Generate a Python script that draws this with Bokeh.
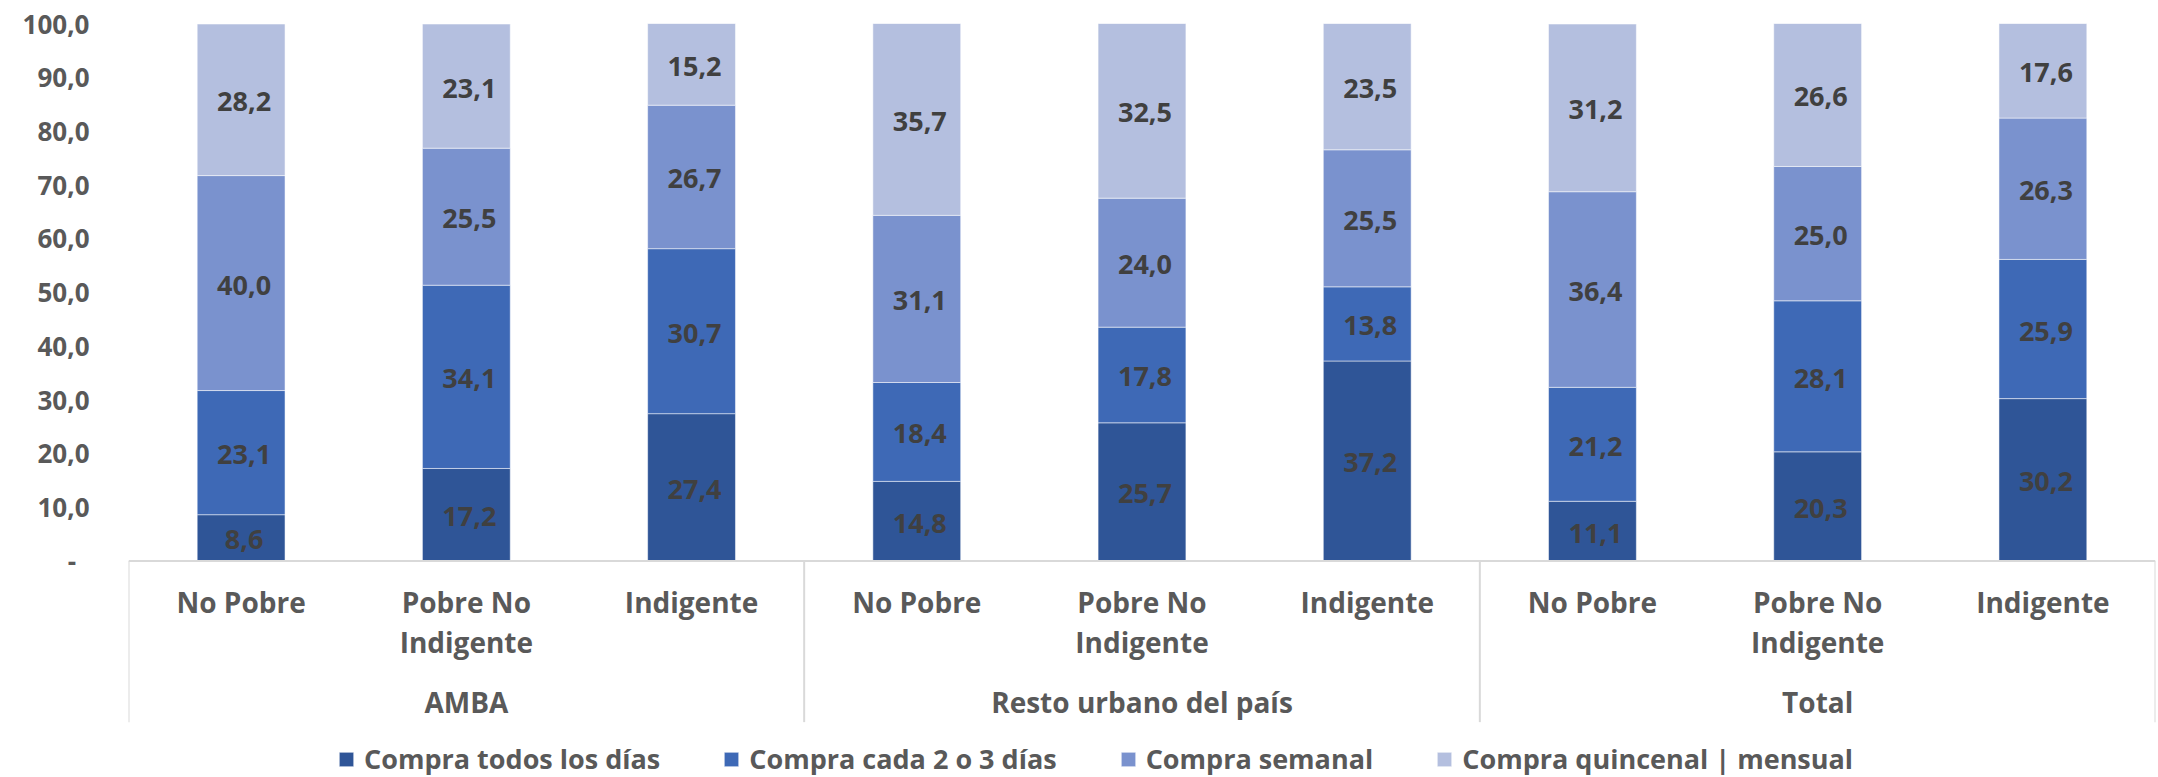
from bokeh.plotting import figure
from bokeh.models import Range1d, FixedTicker, ColumnDataSource
from bokeh.core.properties import value
from bokeh.embed import file_html
from bokeh.resources import INLINE

groups = ["AMBA", "Resto urbano del país", "Total"]
categories = ["No Pobre", "Pobre No\nIndigente", "Indigente"]
series = ["Compra todos los días", "Compra cada 2 o 3 días", "Compra semanal", "Compra quincenal | mensual"]
colors = ["#2F5597", "#3E69B6", "#7A92CE", "#B4BFDF"]

todos = [8.6, 17.2, 27.4, 14.8, 25.7, 37.2, 11.1, 20.3, 30.2]
cada_2_3 = [23.1, 34.1, 30.7, 18.4, 17.8, 13.8, 21.2, 28.1, 25.9]
semanal = [40.0, 25.5, 26.7, 31.1, 24.0, 25.5, 36.4, 25.0, 26.3]
quincenal = [28.2, 23.1, 15.2, 35.7, 32.5, 23.5, 31.2, 26.6, 17.6]
y_ticks = [0, 10, 20, 30, 40, 50, 60, 70, 80, 90, 100]

FONT = "Open Sans"
n_cat = len(categories)
factors = [(g, c) for g in groups for c in categories]
xpos = [i + 0.5 for i in range(len(factors))]
values = [todos, cada_2_3, semanal, quincenal]
keys = ["s0", "s1", "s2", "s3"]

data = {"x": xpos}
for k, v in zip(keys, values):
    data[k] = v
source = ColumnDataSource(data)

p = figure(
    x_range=Range1d(0, len(factors)),
    y_range=Range1d(-40.3, 100),
    width=2158, height=777,
    output_backend="svg", toolbar_location=None,
    x_axis_location=None,
    min_border_left=128, min_border_right=3, min_border_top=23, min_border_bottom=0,
    outline_line_color=None,
)
p.xgrid.grid_line_color = None
p.ygrid.grid_line_color = None

renderers = p.vbar_stack(keys, x="x", width=0.39, color=colors, source=source,
                         line_color="white", line_width=1, line_alpha=0.5,
                         legend_label=series)

# data labels
lx, ly, lt = [], [], []
for i in range(len(factors)):
    base = 0.0
    for v in values:
        val = v[i]
        lx.append(xpos[i])
        ly.append(base + val / 2)
        lt.append(f"{val:.1f}".replace(".", ","))
        base += val
p.text(x=lx, y=ly, text=lt, text_font=value(FONT), text_font_style="bold",
       text_font_size="27px", text_color="#404040", text_align="center",
       text_baseline="middle", x_offset=3, y_offset=2)

# baseline and category separators
bx = [i * n_cat for i in range(len(groups) + 1)]
p.segment(x0=bx, y0=[0] * len(bx), x1=bx, y1=[-30.0] * len(bx),
          line_color="#D9D9D9", line_width=2)
p.segment(x0=[0], y0=[0], x1=[len(factors)], y1=[0],
          line_color="#D9D9D9", line_width=2)

# category labels
l1x, l1t, l2x, l2t = [], [], [], []
for i, f in enumerate(factors):
    parts = f[1].split("\n")
    l1x.append(xpos[i])
    l1t.append(parts[0])
    if len(parts) > 1:
        l2x.append(xpos[i])
        l2t.append(parts[1])
p.text(x=l1x, y=[-7.7] * len(l1x), text=l1t, text_font=value(FONT), text_font_style="bold",
       text_font_size="28px", text_color="#595959", text_align="center", text_baseline="middle")
p.text(x=l2x, y=[-15.1] * len(l2x), text=l2t, text_font=value(FONT), text_font_style="bold",
       text_font_size="28px", text_color="#595959", text_align="center", text_baseline="middle")
gx = [j * n_cat + n_cat / 2 for j in range(len(groups))]
p.text(x=gx, y=[-26.3] * len(gx), text=groups, text_font=value(FONT), text_font_style="bold",
       text_font_size="28px", text_color="#595959", text_align="center", text_baseline="middle")

# y axis
yax = p.yaxis[0]
yax.ticker = FixedTicker(ticks=y_ticks)
yax.major_label_overrides = {t: ("-\u00a0\u00a0" if t == 0 else f"{t:.1f}".replace(".", ",")) for t in y_ticks}
yax.axis_line_color = None
yax.major_tick_line_color = None
yax.minor_tick_line_color = None
yax.major_tick_out = 0
yax.major_tick_in = 0
yax.major_label_standoff = 39
yax.major_label_text_font = FONT
yax.major_label_text_font_style = "bold"
yax.major_label_text_font_size = "26px"
yax.major_label_text_color = "#595959"

# legend
lg = p.legend[0]
lg.orientation = "horizontal"
lg.location = (209, 0)
lg.padding = 0
lg.margin = 0
lg.spacing = 62
lg.label_standoff = 9
lg.glyph_width = 18
lg.glyph_height = 18
lg.border_line_color = None
lg.background_fill_alpha = 0
lg.label_text_font = FONT
lg.label_text_font_style = "bold"
lg.label_text_font_size = "27px"
lg.label_text_color = "#595959"

open("out.html", "w").write(file_html(p, INLINE))
